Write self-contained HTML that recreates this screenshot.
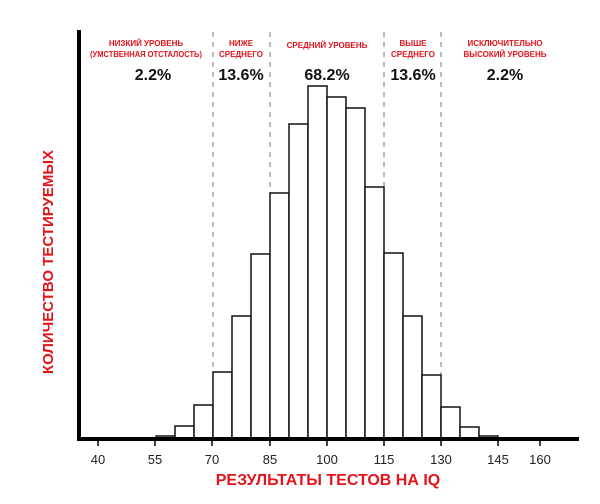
<!DOCTYPE html>
<html><head><meta charset="utf-8"><style>
body{margin:0;background:#fff;width:600px;height:504px;overflow:hidden}
svg{display:block}
.r{fill:#e3141b;font-family:"Liberation Sans",sans-serif;font-weight:bold}
.k{fill:#111;font-family:"Liberation Sans",sans-serif;font-weight:bold}
.t{fill:#222;font-family:"Liberation Sans",sans-serif;font-size:13px}
</style></head><body>
<svg width="600" height="504" viewBox="0 0 600 504">
<g stroke="#777" stroke-width="1" stroke-dasharray="5,5">
<line x1="213" y1="32" x2="213" y2="438"/><line x1="270" y1="32" x2="270" y2="438"/>
<line x1="384" y1="32" x2="384" y2="438"/><line x1="441" y1="32" x2="441" y2="438"/>
</g>
<g fill="#fff" stroke="#111" stroke-width="1.5">
<rect x="156" y="436" width="19" height="3"/>
<rect x="175" y="426" width="19" height="13"/>
<rect x="194" y="405" width="19" height="34"/>
<rect x="213" y="372" width="19" height="67"/>
<rect x="232" y="316" width="19" height="123"/>
<rect x="251" y="254" width="19" height="185"/>
<rect x="270" y="193" width="19" height="246"/>
<rect x="289" y="124" width="19" height="315"/>
<rect x="308" y="86" width="19" height="353"/>
<rect x="327" y="97" width="19" height="342"/>
<rect x="346" y="108" width="19" height="331"/>
<rect x="365" y="187" width="19" height="252"/>
<rect x="384" y="253" width="19" height="186"/>
<rect x="403" y="316" width="19" height="123"/>
<rect x="422" y="375" width="19" height="64"/>
<rect x="441" y="407" width="19" height="32"/>
<rect x="460" y="427" width="19" height="12"/>
<rect x="479" y="436" width="19" height="3"/>
</g>
<rect x="77" y="30" width="4" height="411" fill="#000"/>
<rect x="77" y="437" width="502" height="4" fill="#000"/>
<g stroke="#000" stroke-width="1.5">
<line x1="98" y1="441" x2="98" y2="446"/><line x1="155" y1="441" x2="155" y2="446"/>
<line x1="212" y1="441" x2="212" y2="446"/><line x1="270" y1="441" x2="270" y2="446"/>
<line x1="327" y1="441" x2="327" y2="446"/><line x1="384" y1="441" x2="384" y2="446"/>
<line x1="441" y1="441" x2="441" y2="446"/><line x1="498" y1="441" x2="498" y2="446"/>
<line x1="540" y1="441" x2="540" y2="446"/>
</g>
<g class="t" text-anchor="middle">
<text x="98" y="464">40</text><text x="155" y="464">55</text><text x="212" y="464">70</text>
<text x="270" y="464">85</text><text x="327" y="464">100</text><text x="384" y="464">115</text>
<text x="441" y="464">130</text><text x="498" y="464">145</text><text x="540" y="464">160</text>
</g>
<text class="r" x="328" y="485" text-anchor="middle" font-size="16">РЕЗУЛЬТАТЫ ТЕСТОВ НА IQ</text>
<text class="r" transform="translate(53,262) rotate(-90)" text-anchor="middle" font-size="15">КОЛИЧЕСТВО ТЕСТИРУЕМЫХ</text>
<g class="r" font-size="8" text-anchor="middle">
<text x="146" y="46">НИЗКИЙ УРОВЕНЬ</text><text x="146" y="57" textLength="112" lengthAdjust="spacingAndGlyphs">(УМСТВЕННАЯ ОТСТАЛОСТЬ)</text>
<text x="241" y="46">НИЖЕ</text><text x="241" y="57">СРЕДНЕГО</text>
<text x="327" y="48">СРЕДНИЙ УРОВЕНЬ</text>
<text x="413" y="46">ВЫШЕ</text><text x="413" y="57">СРЕДНЕГО</text>
<text x="505" y="46">ИСКЛЮЧИТЕЛЬНО</text><text x="505" y="57">ВЫСОКИЙ УРОВЕНЬ</text>
</g>
<g class="k" font-size="16" text-anchor="middle">
<text x="153" y="80">2.2%</text><text x="241" y="80">13.6%</text><text x="327" y="80">68.2%</text>
<text x="413" y="80">13.6%</text><text x="505" y="80">2.2%</text>
</g>
</svg>
</body></html>
